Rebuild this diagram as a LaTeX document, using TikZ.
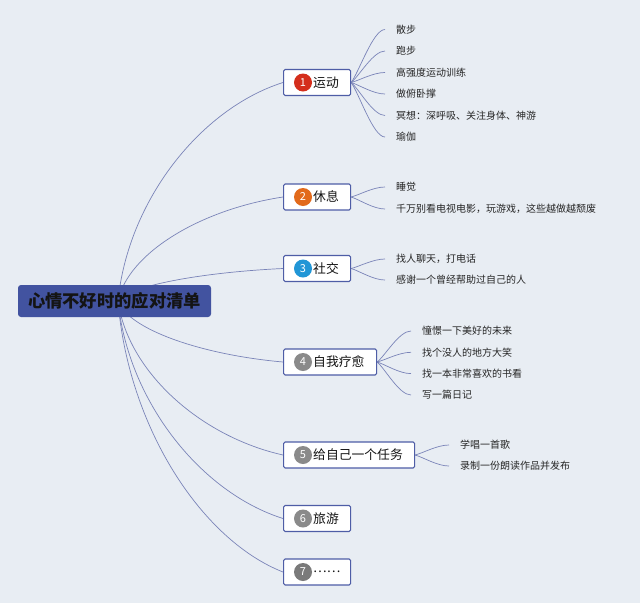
\documentclass[tikz,border=0pt]{standalone}
\usepackage{fontspec}
\newfontfamily\cjk{Noto Sans CJK SC}
\usetikzlibrary{calc}
\pgfdeclarelayer{back}
\pgfdeclarelayer{lines}
\pgfsetlayers{back,lines,main}
\definecolor{bgc}{HTML}{E8EDF3}
\definecolor{rootc}{HTML}{4253A0}
\definecolor{boxb}{HTML}{4E5DA6}
\definecolor{linec}{HTML}{7A84B8}
\definecolor{leafc}{HTML}{262626}
\definecolor{cred}{HTML}{D42E1C}
\definecolor{corange}{HTML}{E26A1B}
\definecolor{cblue}{HTML}{2196D6}
\definecolor{cgray}{HTML}{8A8A8A}
\definecolor{cdgray}{HTML}{7A7A7A}
\newcommand\rootline[1]{\draw[conn] let \p1=(rc), \p2=(#1.west) in (\p1) .. controls ({\x1+10pt},{\y1+0.46*((\y2)-(\y1))}) and ({\x1+0.5*((\x2)-(\x1))},{\y2+0.12*((\y1)-(\y2))}) .. (\p2);}
\newcommand\leafline[2]{\draw[conn] let \p1=(#1.east), \p2=(#2.west) in (\p1) .. controls ({\x1+8pt},{\y1+0.2*((\y2)-(\y1))}) and ({\x1+22pt},{\y2}) .. (\p2);}
\begin{document}
\begin{tikzpicture}[x=1pt,y=-1pt,
  conn/.style={draw=linec, line width=0.7pt},
  rootn/.style={fill=rootc, rounded corners=3pt, minimum width=193pt, minimum height=32pt, inner sep=0pt, text=black!92, font=\cjk\bfseries\fontsize{17.3}{20}\selectfont},
  bbox/.style={draw=boxb, line width=1.1pt, fill=white, rounded corners=1.5pt, minimum height=26pt, anchor=west, inner sep=0pt},
  numc/.style={circle, minimum size=18pt, inner sep=0pt, text=white, font=\cjk\fontsize{11}{11}\selectfont},
  btext/.style={anchor=west, inner sep=0pt, text=black!92, font=\cjk\fontsize{12.8}{14}\selectfont},
  leaf/.style={anchor=west, inner xsep=11pt, inner ysep=0pt, text=leafc, font=\cjk\fontsize{10}{12}\selectfont}]
\begin{pgfonlayer}{back}
\fill[bgc] (0,0) rectangle (640,603);
\end{pgfonlayer}
\useasboundingbox (0,0) rectangle (640,603);

\node[rootn] (root) at (114.5,301) {心情不好时的应对清单};
\coordinate (rc) at (118,301);

% branch boxes
\node[bbox, minimum width=67pt] (b1) at (283,82.5) {};
\node[bbox, minimum width=67pt] (b2) at (283,197) {};
\node[bbox, minimum width=67pt] (b3) at (283,268.5) {};
\node[bbox, minimum width=93pt] (b4) at (283,362) {};
\node[bbox, minimum width=131pt] (b5) at (283,455) {};
\node[bbox, minimum width=67pt] (b6) at (283,518.5) {};
\node[bbox, minimum width=67pt] (b7) at (283,572) {};

\node[numc, fill=cred] (n1) at ($(b1.west)+(20,0)$) {1};
\node[numc, fill=corange] (n2) at ($(b2.west)+(20,0)$) {2};
\node[numc, fill=cblue] (n3) at ($(b3.west)+(20,0)$) {3};
\node[numc, fill=cgray] (n4) at ($(b4.west)+(20,0)$) {4};
\node[numc, fill=cgray] (n5) at ($(b5.west)+(20,0)$) {5};
\node[numc, fill=cgray] (n6) at ($(b6.west)+(20,0)$) {6};
\node[numc, fill=cdgray] (n7) at ($(b7.west)+(20,0)$) {7};

\node[btext] (t1) at ($(b1.west)+(30,0)$) {运动};
\node[btext] (t2) at ($(b2.west)+(30,0)$) {休息};
\node[btext] (t3) at ($(b3.west)+(30,0)$) {社交};
\node[btext] (t4) at ($(b4.west)+(30,0)$) {自我疗愈};
\node[btext] (t5) at ($(b5.west)+(30,0)$) {给自己一个任务};
\node[btext] (t6) at ($(b6.west)+(30,0)$) {旅游};
\node[btext] (t7) at ($(b7.west)+(30,0)$) {……};

% leaves
\node[leaf] (l11) at (385,29.5) {散步};
\node[leaf] (l12) at (385,51) {跑步};
\node[leaf] (l13) at (385,72.5) {高强度运动训练};
\node[leaf] (l14) at (385,94) {做俯卧撑};
\node[leaf] (l15) at (385,115.5) {冥想：深呼吸、关注身体、神游};
\node[leaf] (l16) at (385,137) {瑜伽};

\node[leaf] (l21) at (385,187) {睡觉};
\node[leaf] (l22) at (385,209) {千万别看电视电影，玩游戏，这些越做越颓废};

\node[leaf] (l31) at (385,259) {找人聊天，打电话};
\node[leaf] (l32) at (385,280) {感谢一个曾经帮助过自己的人};

\node[leaf] (l41) at (411,331) {憧憬一下美好的未来};
\node[leaf] (l42) at (411,352.3) {找个没人的地方大笑};
\node[leaf] (l43) at (411,373.6) {找一本非常喜欢的书看};
\node[leaf] (l44) at (411,395) {写一篇日记};

\node[leaf] (l51) at (449,445) {学唱一首歌};
\node[leaf] (l52) at (449,466) {录制一份朗读作品并发布};

\begin{pgfonlayer}{lines}
\rootline{b1}\rootline{b2}\rootline{b3}\rootline{b4}\rootline{b5}\rootline{b6}\rootline{b7}
\leafline{b1}{l11}\leafline{b1}{l12}\leafline{b1}{l13}\leafline{b1}{l14}\leafline{b1}{l15}\leafline{b1}{l16}
\leafline{b2}{l21}\leafline{b2}{l22}
\leafline{b3}{l31}\leafline{b3}{l32}
\leafline{b4}{l41}\leafline{b4}{l42}\leafline{b4}{l43}\leafline{b4}{l44}
\leafline{b5}{l51}\leafline{b5}{l52}
\end{pgfonlayer}
\end{tikzpicture}
\end{document}
